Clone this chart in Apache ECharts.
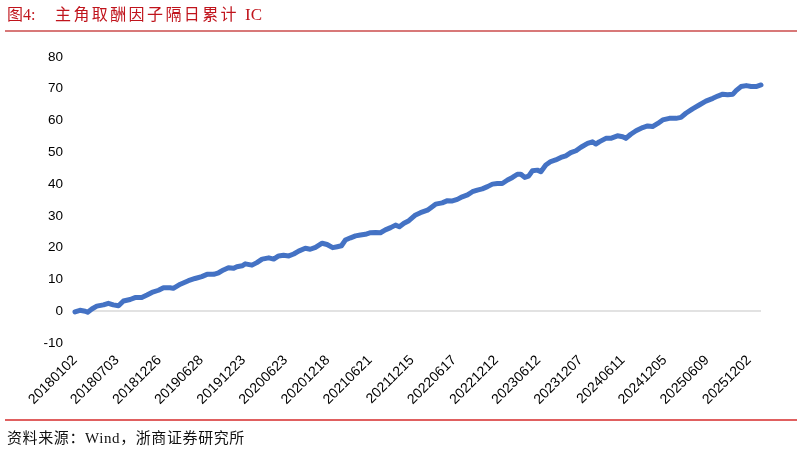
<!DOCTYPE html>
<html>
<head>
<meta charset="utf-8">
<script src="https://cdn.jsdelivr.net/npm/echarts@6/dist/echarts.min.js"></script>
<style>
  html, body { margin: 0; padding: 0; background: #fff; }
  #wrap { position: relative; width: 802px; height: 451px; overflow: hidden; }
  #chart { position: absolute; left: 0; top: 0; width: 802px; height: 451px; }
  .title { position: absolute; top: 5px; color: #c0141c; font-size: 16px; line-height: 20px;
           font-family: "Liberation Serif", "Noto Sans CJK SC", serif; white-space: nowrap; }
  #t1 { left: 7px; }
  #t2 { left: 55px; letter-spacing: 2.4px; }
  #t3 { left: 245px; font-size: 17px; }
  #topLine { position: absolute; left: 5px; top: 30px; width: 792px; height: 2px; background: #d87878; }
  #botLine { position: absolute; left: 5px; top: 419px; width: 792px; height: 2px; background: #e06060; }
  #src { position: absolute; left: 7px; top: 428px; font-size: 15px; line-height: 20px; color: #111;
         font-family: "Liberation Serif", "Noto Sans CJK SC", serif; letter-spacing: 0.6px; white-space: nowrap; }
</style>
</head>
<body>
<div id="wrap">
  <div id="chart"></div>
  <div class="title" id="t1">图4:</div>
  <div class="title" id="t2">主角取酬因子隔日累计</div>
  <div class="title" id="t3">IC</div>
  <div id="topLine"></div>
  <div id="botLine"></div>
  <div id="src">资料来源：Wind，浙商证券研究所</div>
</div>
<script>
// Tick labels shown every 120 trading days
const tickLabels = ['20180102','20180703','20181226','20190628','20191223','20200623','20201218',
  '20210621','20211215','20220617','20221212','20230612','20231207','20240611','20241205',
  '20250609','20251202'];
const tickStep = 120;
const lastDay = 1954;

// Trading-day index (from 20180102) of sampled points
const dayIndex = [0,14,29,36,48,62,81,95,109,124,138,157,171,190,205,219,238,252,271,280,300,323,342,361,376,
  395,409,423,437,452,461,476,485,504,518,533,552,566,580,594,609,623,637,656,670,685,704,718,734,747,759,
  770,785,799,813,827,842,856,870,884,899,913,924,937,951,970,984,1004,1027,1046,1061,1075,1089,1103,1118,
  1132,1146,1160,1175,1189,1203,1217,1232,1246,1260,1270,1281,1292,1303,1317,1327,1341,1355,1369,1384,1398,
  1412,1427,1441,1460,1474,1484,1493,1512,1526,1545,1560,1569,1583,1598,1617,1631,1645,1660,1674,1693,1712,
  1726,1740,1759,1778,1797,1817,1831,1845,1859,1874,1883,1897,1912,1926,1940,1954];

// Cumulative IC values
const icValues = [-0.2,0.3,0.0,-0.3,0.7,1.6,2.0,2.5,2.0,1.7,3.2,3.7,4.3,4.3,5.1,5.9,6.6,7.4,7.4,7.2,8.5,9.6,10.3,10.9,11.6,
  11.6,12.1,13.0,13.7,13.5,14.0,14.3,14.9,14.5,15.3,16.4,16.8,16.4,17.4,17.6,17.4,18.0,18.9,19.8,19.5,20.1,21.4,21.0,20.0,20.3,20.6,
  22.4,23.1,23.7,24.0,24.2,24.7,24.8,24.7,25.6,26.3,27.1,26.6,27.7,28.5,30.3,31.0,31.8,33.7,34.1,34.8,34.7,35.2,36.0,36.6,
  37.6,38.1,38.5,39.2,40.0,40.2,40.2,41.3,42.1,43.1,43.1,42.1,42.5,44.2,44.4,43.9,46.0,47.1,47.6,48.4,48.9,
  49.9,50.5,51.6,52.8,53.3,52.6,53.3,54.4,54.4,55.2,54.9,54.4,55.7,56.8,57.8,58.3,58.1,59.1,60.2,60.7,60.7,
  61.0,62.3,63.7,64.9,66.1,67.0,67.7,68.3,68.1,68.3,69.4,70.7,71.0,70.7,70.7,71.2];

const chart = echarts.init(document.getElementById('chart'), null, { renderer: 'canvas' });
chart.setOption({
  animation: false,
  backgroundColor: 'transparent',
  grid: { left: 75, right: 41, top: 57, bottom: 108, containLabel: false },
  xAxis: {
    type: 'value', min: 0, max: lastDay, interval: tickStep,
    axisLine: { show: false }, axisTick: { show: false }, splitLine: { show: false },
    axisLabel: {
      rotate: 45, margin: 15, fontSize: 14, color: '#000', fontFamily: 'Liberation Sans',
      showMaxLabel: false, hideOverlap: false,
      formatter: v => (v % tickStep === 0 && tickLabels[v / tickStep]) ? tickLabels[v / tickStep] : ''
    }
  },
  yAxis: {
    type: 'value', min: -10, max: 80, interval: 10,
    axisLine: { show: false }, axisTick: { show: false }, splitLine: { show: false },
    axisLabel: { margin: 12, fontSize: 13.5, color: '#000', fontFamily: 'Liberation Sans' }
  },
  series: [
    {
      type: 'line', data: [], z: 0, silent: true,
      markLine: {
        silent: true, symbol: 'none', label: { show: false }, z: 0,
        lineStyle: { color: '#d9d9d9', width: 1.5, type: 'solid' },
        data: [{ yAxis: 0 }]
      }
    },
    {
      type: 'line', z: 5, showSymbol: false, smooth: false,
      lineStyle: { color: '#4472C4', width: 5, cap: 'round', join: 'round' },
      data: dayIndex.map((d, i) => [d, icValues[i]])
    }
  ]
});
</script>
</body>
</html>
